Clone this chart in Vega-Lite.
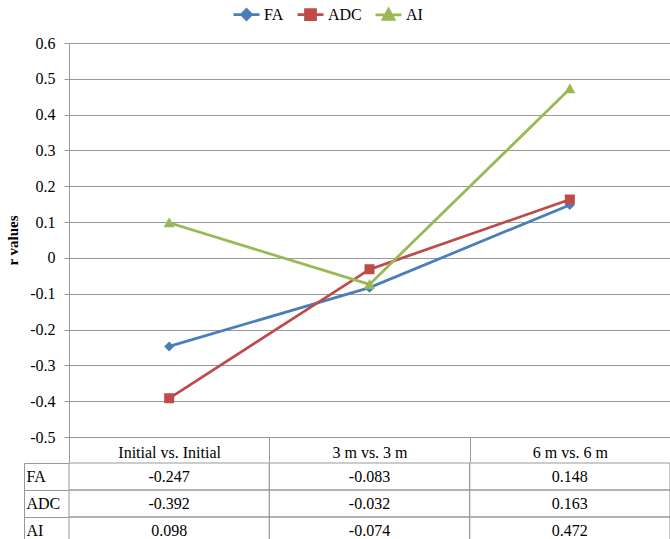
{
  "$schema": "https://vega.github.io/schema/vega-lite/v6.json",
  "padding": {"left": 5, "top": 3, "right": 0, "bottom": 0},
  "background": "white",
  "spacing": -8,
  "config": {
    "view": {"stroke": null},
    "font": "Liberation Serif",
    "locale": {"number": {"decimal": ".", "thousands": ",", "grouping": [3], "currency": ["$", ""], "minus": "-"}},
    "axis": {"labelFont": "Liberation Serif", "labelFontSize": 16, "labelColor": "black", "titleFont": "Liberation Serif", "titleColor": "black"},
    "legend": {"labelFont": "Liberation Serif"}
  },
  "datasets": {
    "r": [
      {"comparison": "Initial vs. Initial", "series": "FA", "r": -0.247},
      {"comparison": "3 m vs. 3 m", "series": "FA", "r": -0.083},
      {"comparison": "6 m vs. 6 m", "series": "FA", "r": 0.148},
      {"comparison": "Initial vs. Initial", "series": "ADC", "r": -0.392},
      {"comparison": "3 m vs. 3 m", "series": "ADC", "r": -0.032},
      {"comparison": "6 m vs. 6 m", "series": "ADC", "r": 0.163},
      {"comparison": "Initial vs. Initial", "series": "AI", "r": 0.098},
      {"comparison": "3 m vs. 3 m", "series": "AI", "r": -0.074},
      {"comparison": "6 m vs. 6 m", "series": "AI", "r": 0.472}
    ]
  },
  "resolve": {"scale": {"x": "independent", "y": "independent"}},
  "vconcat": [
    {
      "width": 601,
      "height": 394,
      "data": {"name": "r"},
      "encoding": {
        "x": {
          "field": "comparison", "type": "nominal",
          "sort": ["Initial vs. Initial", "3 m vs. 3 m", "6 m vs. 6 m"],
          "scale": {"type": "band", "paddingInner": 0, "paddingOuter": 0},
          "axis": {"title": null, "labelAngle": 0, "labelFont": "Liberation Serif", "tickBand": "extent", "tickSize": 25, "tickColor": "#999999", "domainColor": "#999999", "labelPadding": -5, "labelBaseline": "alphabetic", "grid": false}
        },
        "y": {
          "field": "r", "type": "quantitative",
          "scale": {"domain": [-0.5, 0.6], "nice": false, "zero": false},
          "axis": {"title": "r values", "labelFont": "Liberation Serif", "values": [-0.5, -0.4, -0.3, -0.2, -0.1, 0, 0.1, 0.2, 0.3, 0.4, 0.5, 0.6], "format": ".1~f", "grid": true, "gridColor": "#999999", "domainColor": "#999999", "tickColor": "#999999", "tickSize": 5, "labelPadding": 9, "titleFontWeight": "bold", "titleFontSize": 15, "titlePadding": 9}
        },
        "color": {"field": "series", "type": "nominal", "sort": ["FA", "ADC", "AI"], "scale": {"domain": ["FA", "ADC", "AI"], "range": ["#4A7EBB", "#BE4B48", "#98B954"]},
          "legend": {"orient": "none", "legendX": 166, "legendY": -40, "direction": "horizontal", "title": null, "labelFont": "Liberation Serif", "labelFontSize": 16, "labelColor": "black", "symbolSize": 400, "labelOffset": 6, "columnPadding": 8, "encode": {"symbols": {"update": {"stroke": {"scale": "color", "field": "value"}, "strokeWidth": {"value": 2.75}}}}}}
      },
      "layer": [
        {
          "mark": {"type": "line", "strokeWidth": 2.75}
        },
        {
          "mark": {"type": "point", "filled": true, "opacity": 1, "size": 400, "strokeWidth": 0},
          "encoding": {
            "shape": {"field": "series", "type": "nominal", "sort": ["FA", "ADC", "AI"], "scale": {"domain": ["FA", "ADC", "AI"], "range": ["M-1.3,0H1.3M0,-0.5L0.5,0L0,0.5L-0.5,0Z", "M-1.3,0H1.3M-0.5,-0.5H0.5V0.5H-0.5Z", "M-1.3,0H1.3M0,-0.55L0.55,0.45H-0.55Z"]},
              "legend": {"orient": "none", "legendX": 166, "legendY": -40, "direction": "horizontal", "title": null, "labelFont": "Liberation Serif", "labelFontSize": 16, "labelColor": "black", "symbolSize": 400, "labelOffset": 6, "columnPadding": 8, "encode": {"symbols": {"update": {"stroke": {"scale": "color", "field": "value"}, "strokeWidth": {"value": 2.75}}}}}}
          }
        }
      ]
    },
    {
      "width": 601,
      "height": 81,
      "data": {"name": "r"},
      "encoding": {
        "x": {"field": "comparison", "type": "nominal", "sort": ["Initial vs. Initial", "3 m vs. 3 m", "6 m vs. 6 m"], "scale": {"type": "band", "paddingInner": 0, "paddingOuter": 0}, "axis": null},
        "y": {"field": "series", "type": "nominal", "sort": ["FA", "ADC", "AI"], "scale": {"paddingInner": 0, "paddingOuter": 0},
          "axis": {"title": null, "offset": 45, "labelFont": "Liberation Serif", "domainColor": "#999999", "tickColor": "#999999", "tickBand": "extent", "tickSize": -45, "labelAlign": "left", "labelPadding": 43, "labelFontSize": 16, "grid": false}}
      },
      "layer": [
        {"mark": {"type": "rect", "fill": "transparent", "stroke": "#999999", "strokeWidth": 1}},
        {"mark": {"type": "text", "fontSize": 16, "font": "Liberation Serif", "color": "black"}, "encoding": {"text": {"field": "r", "type": "quantitative", "format": ".3f"}}}
      ]
    }
  ]
}
